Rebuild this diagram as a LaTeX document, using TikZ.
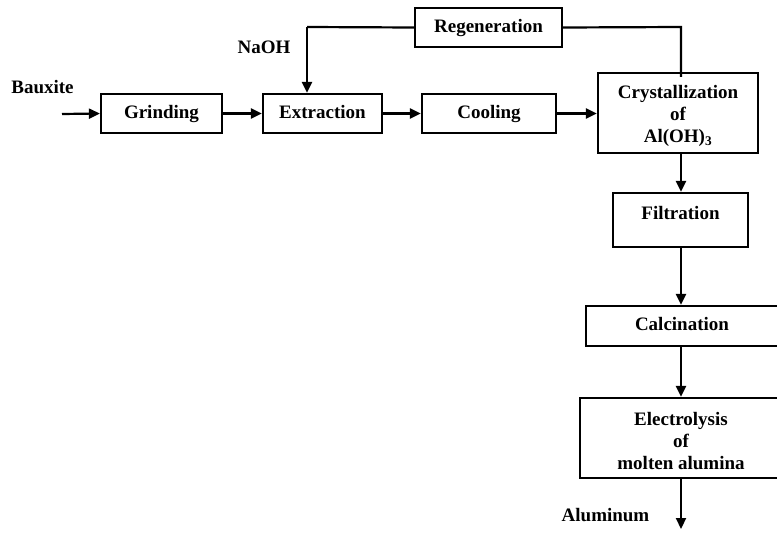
\documentclass[tikz,border=0pt]{standalone}
\usepackage{fontspec}
\setmainfont{Liberation Serif}
\usetikzlibrary{arrows.meta}
\begin{document}
\begin{tikzpicture}[x=1pt,y=-1pt,
  box/.style={draw, line width=2.2pt, inner sep=0pt, align=center,
    font=\fontsize{19}{22}\selectfont\bfseries},
  one/.style={text height=13pt, text depth=4pt},
  lbl/.style={inner sep=0pt, align=center, font=\fontsize{19}{22}\selectfont\bfseries},
  flow/.style={line width=2.2pt, -{Triangle[length=11pt,width=10pt]}},
  line/.style={line width=2.2pt}]
\useasboundingbox (0,0) rectangle (777,533);
\clip (0,0) rectangle (777,533);
\node[box, one, minimum width=121pt, minimum height=39pt] (grind) at (161.5,113.5) {Grinding};
\node[box, one, minimum width=119pt, minimum height=39pt] (extr) at (322.5,113.5) {Extraction};
\node[box, one, minimum width=134pt, minimum height=39pt] (cool) at (489,113.5) {Cooling};
\node[box, one, minimum width=147pt, minimum height=39pt] (regen) at (488.5,27.5) {Regeneration};
\node[box, minimum width=160pt, minimum height=80pt] (cryst) at (678,113) {};
\node[lbl] (crystt) at (678,116) {Crystallization\\of\\Al(OH)\textsubscript{3}};
\node[box, minimum width=135pt, minimum height=54pt] (filt) at (680.5,220) {};
\node[lbl] (filtt) at (680.5,213) {Filtration};
\node[box, one, minimum width=192pt, minimum height=40pt] (calc) at (682,326) {Calcination};
\node[box, minimum width=202pt, minimum height=80pt] (elec) at (681,438) {};
\node[lbl] (elect) at (681,441) {Electrolysis\\of\\molten alumina};
\node[lbl] (baux) at (42.5,87) {Bauxite};
\node[lbl] (naoh) at (264,47) {NaOH};
\node[lbl] (alum) at (605.5,515) {Aluminum};
\coordinate (in) at (62,114);
\coordinate (out) at (681,529);
\coordinate (fb) at (307,27);
\coordinate (cb) at (681,27);
\draw[flow] (in) -- (grind.west);
\draw[flow] (grind.east) -- (extr.west);
\draw[flow] (extr.east) -- (cool.west);
\draw[flow] (cool.east) -- (cool.east -| cryst.west);
\draw[line] (regen.west) -- (fb);
\draw[flow] (fb) -- (fb |- extr.north);
\draw[line] (regen.east) -- (cb) -- ([yshift=-5pt]cb |- cryst.north);
\draw[flow] (cryst.south -| 681,0) -- (filt.north -| 681,0);
\draw[flow] (filt.south -| 681,0) -- (calc.north -| 681,0);
\draw[flow] (calc.south -| 681,0) -- (elec.north -| 681,0);
\draw[flow] (elec.south -| 681,0) -- (out);
\end{tikzpicture}
\end{document}
